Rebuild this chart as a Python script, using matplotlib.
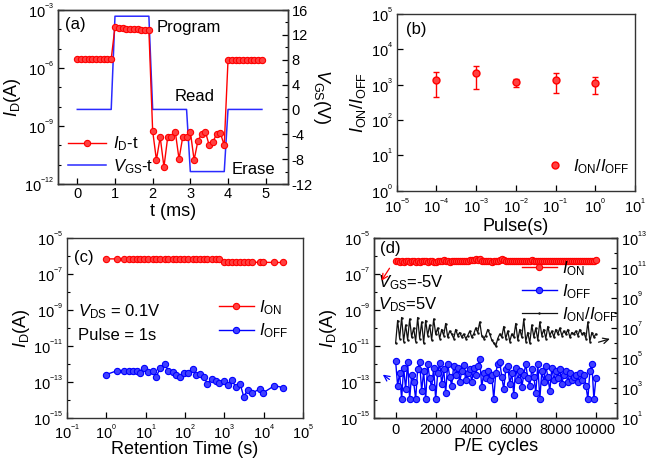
import numpy as np
import matplotlib
matplotlib.use('Agg')
import matplotlib.pyplot as plt
from matplotlib.ticker import NullFormatter, NullLocator, FuncFormatter
from matplotlib.lines import Line2D

plt.rcParams['font.family'] = ['Liberation Sans', 'DejaVu Sans']
plt.rcParams['mathtext.fontset'] = 'custom'
plt.rcParams['mathtext.rm'] = 'Liberation Sans'
plt.rcParams['mathtext.it'] = 'Liberation Sans:italic'
plt.rcParams['axes.unicode_minus'] = False

#(a) program / read / erase pulses
t_a = [0.0, 0.1, 0.2, 0.3, 0.4, 0.5, 0.6, 0.7, 0.8, 0.9,
       1.0, 1.1, 1.2, 1.3, 1.4, 1.5, 1.6, 1.7, 1.8, 1.9,
       2.0, 2.1, 2.2, 2.3, 2.4, 2.5, 2.6, 2.7, 2.8, 2.9,
       3.0, 3.1, 3.2, 3.3, 3.4, 3.5, 3.6, 3.7, 3.8, 3.9,
       4.0, 4.1, 4.2, 4.3, 4.4, 4.5, 4.6, 4.7, 4.8, 4.9]
id_a_log = [-5.54, -5.54, -5.54, -5.54, -5.54, -5.54, -5.54, -5.54, -5.54, -5.54,
            -3.87, -3.92, -3.95, -3.97, -3.98, -3.99, -4.00, -4.02, -4.02, -4.04,
            -9.25, -10.76, -9.57, -11.12, -9.57, -9.55, -9.29, -10.71, -9.55, -9.55,
            -9.29, -10.76, -9.78, -9.41, -9.29, -10.00, -9.81, -9.41, -9.38, -10.00,
            -5.60, -5.60, -5.60, -5.60, -5.60, -5.60, -5.60, -5.60, -5.60, -5.60]
vt_a = [0, 0.9, 1.0, 1.9, 2.0, 2.9, 3.0, 3.9, 4.0, 4.9]
vgs_a = [0, 0, 15, 15, 0, 0, -10, -10, 0, 0]

#(b) on/off ratio vs pulse width
pulse = [1e-4, 1e-3, 1e-2, 1e-1, 1e0]
ratio_b = [1.35e3, 2.1e3, 1.17e3, 1.35e3, 1.12e3]
ratio_hi = [2.3e3, 3.4e3, 1.45e3, 2.1e3, 1.7e3]
ratio_lo = [4.6e2, 7.4e2, 8.5e2, 5.7e2, 5.5e2]

#(c) retention
t_ret = [1, 1.9, 2.8, 3.7, 4.7, 5.9, 7.4, 9.3, 11.7, 15.1, 18.6, 23.7, 30.5, 38,
         49, 59, 76, 95, 120, 155, 190, 245, 300, 370, 480, 600, 740, 980,
         1230, 1550, 1950, 2510, 3090, 3890, 4900, 7760, 9770, 18600, 30200]
ion_c_log = [-6.16, -6.16, -6.16, -6.17, -6.17, -6.17, -6.17, -6.17, -6.17, -6.17,
             -6.17, -6.17, -6.17, -6.18, -6.18, -6.18, -6.18, -6.18, -6.18, -6.18,
             -6.18, -6.19, -6.19, -6.19, -6.19, -6.19, -6.19, -6.33, -6.34, -6.34,
             -6.34, -6.34, -6.34, -6.35, -6.35, -6.35, -6.35, -6.36, -6.36]
ioff_c_log = [-12.59, -12.37, -12.37, -12.37, -12.41, -12.37, -12.48, -12.24, -12.44,
              -12.37, -12.70, -12.22, -12.00, -12.39, -12.43, -12.59, -12.70, -12.52,
              -12.48, -12.26, -12.61, -12.54, -12.72, -13.09, -12.81, -12.93, -13.06,
              -12.93, -13.17, -12.89, -13.30, -13.13, -13.81, -13.44, -13.63, -13.39,
              -13.59, -13.20, -13.31]

#(d) endurance
cycles = np.arange(0, 10001, 100)
ion_d_log = [-6.30, -6.25, -6.35, -6.28, -6.32, -6.30, -6.27, -6.33, -6.30, -6.26,
             -6.31, -6.29, -6.34, -6.28, -6.30, -6.27, -6.32, -6.30, -6.29, -6.33,
             -6.31, -6.28, -6.30, -6.26, -6.24, -6.30, -6.28, -6.31, -6.29, -6.27,
             -6.30, -6.28, -6.30, -6.29, -6.27, -6.30, -6.26, -6.22, -6.20, -6.24,
             -6.18, -6.22, -6.15, -6.25, -6.28, -6.30, -6.27, -6.29, -6.31, -6.28,
             -6.26, -6.30, -6.20, -6.16, -6.24, -6.28, -6.30, -6.29, -6.27, -6.30,
             -6.28, -6.25, -6.29, -6.27, -6.30, -6.28, -6.26, -6.29, -6.24, -6.27,
             -6.30, -6.25, -6.28, -6.26, -6.29, -6.27, -6.30, -6.28, -6.26, -6.29,
             -6.27, -6.28, -6.30, -6.27, -6.29, -6.28, -6.26, -6.29, -6.27, -6.28,
             -6.30, -6.27, -6.26, -6.29, -6.28, -6.27, -6.29, -6.26, -6.28, -6.25,
             -6.20]
ioff_d_log = [-11.85, -13.2, -12.5, -13.95, -12.2, -13.4, -11.9, -13.95, -12.6, -13.0,
              -13.95, -12.3, -11.9, -13.5, -12.4, -13.95, -12.0, -12.8, -13.3, -12.2,
              -13.95, -12.5, -11.95, -13.1, -12.3, -13.6, -12.0, -12.7, -13.2, -12.1,
              -12.6, -12.2, -13.0, -12.4, -12.05, -12.9, -12.5, -12.3, -13.0, -12.2,
              -12.6, -12.1, -11.7, -13.3, -12.5, -12.8, -12.4, -12.9, -12.6, -13.95,
              -12.5, -12.0, -11.9, -12.7, -13.4, -12.3, -12.1, -13.1, -12.5, -13.7,
              -12.2, -12.9, -12.4, -13.3, -12.6, -12.0, -12.8, -13.2, -12.3, -12.7,
              -13.6, -12.0, -13.95, -12.4, -13.0, -12.1, -12.7, -13.5, -12.2, -12.9,
              -12.4, -12.8, -12.3, -13.1, -12.6, -12.4, -13.0, -12.5, -12.9, -12.7,
              -12.6, -13.0, -12.5, -12.9, -12.6, -13.2, -13.95, -12.4, -12.0, -13.95,
              -12.8]
ratio_d_log = [6.0, 7.5, 6.3, 7.7, 6.1, 7.2, 6.2, 7.6, 6.4, 7.0,
               6.1, 7.7, 6.3, 7.4, 6.0, 7.5, 6.5, 7.2, 6.2, 7.6,
               6.6, 7.0, 6.3, 6.9, 6.5, 7.3, 6.4, 6.8, 6.6, 6.3,
               6.9, 6.5, 6.7, 6.4, 6.6, 6.3, 6.5, 6.8, 6.4, 6.6,
               7.0, 6.7, 7.4, 6.5, 6.3, 6.5, 6.9, 6.6, 6.2, 6.0,
               5.8, 6.3, 6.6, 6.4, 7.1, 6.3, 6.8, 6.1, 6.6, 6.4,
               7.3, 6.2, 6.9, 6.4, 7.6, 6.1, 6.7, 6.0, 7.2, 6.4,
               7.0, 6.2, 7.4, 6.5, 6.9, 6.3, 7.1, 6.5, 6.8, 6.4,
               6.9, 6.6, 7.0, 6.5, 6.8, 6.6, 6.9, 6.4, 6.7, 6.6,
               6.8, 6.5, 6.9, 6.6, 6.7, 6.3, 7.4, 6.1, 6.7, 6.4,
               6.6]

#styles
RED = '#ff0000'
BLUE = '#0000ff'
red_kw = dict(color=RED, marker='o', markersize=4.5, markerfacecolor='#ff4040',
              markeredgecolor=RED, markeredgewidth=0.8, linewidth=1)
blue_kw = dict(color=BLUE, marker='o', markersize=4.5, markerfacecolor='#4040ff',
               markeredgecolor=BLUE, markeredgewidth=0.8, linewidth=1)
TICK = 10.5
LAB = 13
TXT = 12


def box(l, t, r, b):
    return [l / 659, 1 - b / 458, (r - l) / 659, (b - t) / 458]


def pow10(v, pos):
    #small Origin-like exponent
    e = int(round(np.log10(v)))
    return r'$\mathdefault{10^{{}^{%d}}}$' % e


def style(ax):
    ax.tick_params(which='both', direction='in', labelsize=TICK, pad=2.5)
    ax.tick_params(which='major', length=4, width=0.9)
    ax.tick_params(which='minor', length=2.5, width=0.8)
    for s in ax.spines.values():
        s.set_linewidth(1.0)
        s.set_color('#333333')


def logfmt(axis):
    axis.set_major_formatter(FuncFormatter(pow10))
    axis.set_minor_formatter(NullFormatter())


def decades(lo, hi):
    return [10.0 ** k for k in range(lo, hi + 1)]


fig = plt.figure(figsize=(6.59, 4.58), dpi=100)

#---- (a)
axa = fig.add_axes(box(57.7, 10, 288.3, 184))
axa2 = axa.twinx()
axa.set_yscale('log')
la, = axa.plot(t_a, np.power(10.0, id_a_log), label=r'$I_\mathrm{D}$-t', zorder=3, **red_kw)
lb, = axa2.plot(vt_a, vgs_a, color='#2a2aff', linewidth=1.1, label=r'$V_\mathrm{GS}$-t')
axa.set_zorder(axa2.get_zorder() + 1)
axa.patch.set_visible(False)
axa.set_xlim(-0.52, 5.6)
axa.set_ylim(1e-12, 1e-3)
axa.set_yticks([1e-12, 1e-9, 1e-6, 1e-3])
axa.set_yticks(decades(-12, -3), minor=True)
logfmt(axa.yaxis)
axa.set_xticks([0, 1, 2, 3, 4, 5])
axa2.set_ylim(-12, 16)
axa2.set_yticks([-12, -8, -4, 0, 4, 8, 12, 16])
axa2.set_yticks([-10, -6, -2, 2, 6, 10, 14], minor=True)
axa.set_xlabel('t (ms)', fontsize=LAB, labelpad=1)
axa.set_ylabel(r'$I_\mathrm{D}$(A)', fontsize=LAB, labelpad=1)
axa2.set_ylabel(r'$V_\mathrm{GS}$(V)', fontsize=LAB, rotation=270, labelpad=14)
style(axa)
style(axa2)
axa.text(0.03, 0.915, '(a)', transform=axa.transAxes, fontsize=TXT, va='center')
axa.text(2.1, 10 ** -3.93, 'Program', fontsize=TXT, va='center')
axa2.text(2.59, 1.3, 'Read', fontsize=TXT, va='baseline')
axa2.text(4.1, -9.6, 'Erase', fontsize=TXT, va='center')
axa.legend(handles=[la, lb], loc='lower left', bbox_to_anchor=(-0.02, -0.04),
           frameon=False, fontsize=TXT, handlelength=2.3, handletextpad=0.4,
           labelspacing=0.25)

#---- (b)
axb = fig.add_axes(box(396.7, 14, 635, 190.7))
axb.set_xscale('log')
axb.set_yscale('log')
yerr = [np.array(ratio_b) - np.array(ratio_lo), np.array(ratio_hi) - np.array(ratio_b)]
axb.errorbar(pulse, ratio_b, yerr=yerr, fmt='o', color=RED, markersize=5,
             markerfacecolor='#ff4040', markeredgecolor=RED, ecolor=RED,
             elinewidth=1, capsize=2, capthick=1)
axb.set_xlim(1e-5, 1e1)
axb.set_ylim(1e0, 1e5)
axb.set_xticks(decades(-5, 1))
axb.set_yticks(decades(0, 5))
axb.xaxis.set_minor_locator(NullLocator())
axb.yaxis.set_minor_locator(NullLocator())
logfmt(axb.xaxis)
logfmt(axb.yaxis)
axb.set_xlabel('Pulse(s)', fontsize=LAB, labelpad=1)
axb.set_ylabel(r'$I_\mathrm{ON}$/$I_\mathrm{OFF}$', fontsize=LAB, labelpad=2)
style(axb)
axb.tick_params(axis='x', pad=5)
axb.text(0.04, 0.91, '(b)', transform=axb.transAxes, fontsize=TXT, va='center')
hb = Line2D([], [], linestyle='none', marker='o', markersize=5, color=RED,
            markerfacecolor='#ff4040')
axb.legend(handles=[hb], labels=[r'$I_\mathrm{ON}$/$I_\mathrm{OFF}$'],
           loc='lower right', bbox_to_anchor=(1.04, 0.0), frameon=False,
           fontsize=TXT, handlelength=1.0, handletextpad=0.6)

#---- (c)
axc = fig.add_axes(box(66.7, 238, 303.3, 418))
axc.set_xscale('log')
axc.set_yscale('log')
axc.plot(t_ret, np.power(10.0, ion_c_log), label=r'$I_\mathrm{ON}$', **red_kw)
axc.plot(t_ret, np.power(10.0, ioff_c_log), label=r'$I_\mathrm{OFF}$', **blue_kw)
axc.set_xlim(1e-1, 1e5)
axc.set_ylim(1e-15, 1e-5)
axc.set_xticks(decades(-1, 5))
axc.xaxis.set_minor_locator(NullLocator())
axc.set_yticks(decades(-15, -5)[::2])
axc.set_yticks(decades(-14, -6)[::2], minor=True)
logfmt(axc.xaxis)
logfmt(axc.yaxis)
axc.set_xlabel('Retention Time (s)', fontsize=LAB, labelpad=-0.5)
axc.set_ylabel(r'$I_\mathrm{D}$(A)', fontsize=LAB, labelpad=1)
style(axc)
axc.tick_params(axis='x', pad=4)
axc.text(0.03, 0.89, '(c)', transform=axc.transAxes, fontsize=TXT, va='center')
axc.text(0.048, 0.59, r'$V_\mathrm{DS}$ = 0.1V', transform=axc.transAxes, fontsize=TXT, va='center')
axc.text(0.048, 0.46, 'Pulse = 1s', transform=axc.transAxes, fontsize=TXT, va='center')
axc.legend(loc='center right', bbox_to_anchor=(1.0, 0.55), frameon=False,
           fontsize=TXT, handlelength=2.1, handletextpad=0.3, labelspacing=0.3)

#---- (d)
axd = fig.add_axes(box(374, 238, 617.3, 418))
axd2 = axd.twinx()
axd.set_yscale('log')
axd2.set_yscale('log')
l1, = axd.plot(cycles, np.power(10.0, ion_d_log), label=r'$I_\mathrm{ON}$', **red_kw)
l2, = axd.plot(cycles, np.power(10.0, ioff_d_log), label=r'$I_\mathrm{OFF}$', **blue_kw)
l3, = axd2.plot(cycles, np.power(10.0, ratio_d_log), color='#111111', linewidth=0.9,
                marker='.', markersize=1.5, label=r'$I_\mathrm{ON}$/$I_\mathrm{OFF}$')
axd.set_xlim(-1080, 11070)
axd.set_ylim(1e-15, 1e-5)
axd.set_yticks(decades(-15, -5)[::2])
axd.set_yticks(decades(-14, -6)[::2], minor=True)
logfmt(axd.yaxis)
axd.set_xticks([0, 2000, 4000, 6000, 8000, 10000])
axd2.set_ylim(1e1, 1e13)
axd2.set_yticks(decades(1, 13)[::2])
axd2.set_yticks(decades(2, 12)[::2], minor=True)
logfmt(axd2.yaxis)
axd.set_xlabel('P/E cycles', fontsize=LAB, labelpad=0.5)
axd.set_ylabel(r'$I_\mathrm{D}$(A)', fontsize=LAB, labelpad=1)
style(axd)
style(axd2)
axd.tick_params(axis='x', pad=3.5)
axd.text(0.025, 0.94, '(d)', transform=axd.transAxes, fontsize=TXT, va='center')
axd.text(0.016, 0.75, r'$V_\mathrm{GS}$=-5V', transform=axd.transAxes, fontsize=TXT, va='center')
axd.text(0.016, 0.63, r'$V_\mathrm{DS}$=5V', transform=axd.transAxes, fontsize=TXT, va='center')
axd.annotate('', xy=(-780, 10 ** -7.5), xytext=(-230, 10 ** -6.55),
             arrowprops=dict(arrowstyle='->', color=RED, lw=0.9))
axd.annotate('', xy=(-750, 10 ** -12.5), xytext=(-200, 10 ** -12.95),
             arrowprops=dict(arrowstyle='->', color=BLUE, lw=0.9))
axd2.annotate('', xy=(10830, 10 ** 6.33), xytext=(10000, 10 ** 6.0),
              arrowprops=dict(arrowstyle='->', color='#111111', lw=0.9))
axd2.legend(handles=[l1, l2, l3], loc='upper left', bbox_to_anchor=(0.58, 0.92),
            frameon=False, fontsize=TXT, handlelength=2.1, handletextpad=0.3,
            labelspacing=0.25, borderaxespad=0)

fig.savefig('out.png', dpi=100)
